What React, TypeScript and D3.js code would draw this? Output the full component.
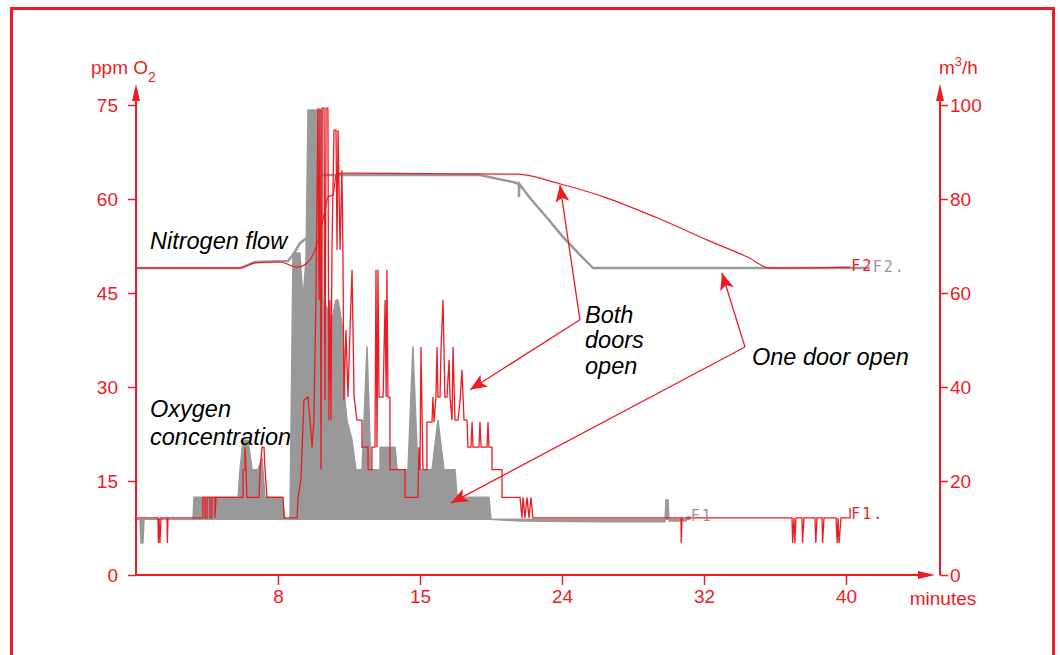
import { useEffect, useRef } from 'react';
import * as d3 from 'd3';

const RED = '#ec1c24';
const GREY = '#999999';
const FONT = 'Liberation Sans, Arial, Helvetica, sans-serif';

// axis ticks
const minuteTicks = [8, 15, 24, 32, 40];
const ppmTicks = [0, 15, 30, 45, 60, 75];
const flowTicks = [0, 20, 40, 60, 80, 100];

// oxygen concentration, grey trace: [minute, ppm O2]
const oxygenGrey = [
  [0, 8.9], [0.23, 8.9], [0.28, 5.1], [0.39, 5.1], [0.45, 8.9], [3.21, 8.9], [3.27, 12.4], [5.75, 12.4],
  [5.86, 16.8], [6.03, 21.5], [6.31, 21.5], [6.54, 16.8], [6.87, 16.8], [7.1, 18.7], [7.27, 12.4], [8.2, 12.4],
  [8.35, 8.9], [8.59, 8.9], [8.74, 51.4], [9.08, 51.4], [9.23, 43.9], [9.38, 50.3], [9.48, 74.2], [10.17, 74.2],
  [10.22, 43.9], [10.46, 42.3], [10.51, 24.7], [10.61, 24.7], [10.66, 40.7], [10.86, 43.9], [10.96, 43.9],
  [11.2, 39.1], [11.3, 27.9], [11.4, 24.7], [11.65, 21.5], [11.84, 16.8], [12.14, 16.8], [12.39, 36.4],
  [12.58, 16.8], [13.03, 16.8], [13.03, 20.4], [13.77, 20.4], [13.87, 16.8], [14.41, 16.8], [14.65, 36.4],
  [14.85, 20.4], [15.0, 16.8], [15.76, 16.8], [16.14, 24.7], [16.52, 16.8], [17.22, 16.8], [17.35, 12.4],
  [19.37, 12.4], [19.5, 8.9], [21.34, 8.6], [26.14, 8.5], [29.8, 8.5], [29.86, 12.0], [29.97, 12.0],
  [30.03, 8.6], [30.99, 8.6], [31.04, 9.25], [31.21, 9.25],
];
const oxygenBase = 8.9;

// oxygen concentration, red trace: [minute, ppm O2]
const oxygenRed = [
  [0, 9.1], [1.24, 9.1], [1.26, 5.1], [1.3, 9.1], [1.35, 5.1], [1.41, 9.1], [1.75, 9.1], [1.77, 5.1], [1.8, 9.1],
  [3.77, 9.1], [3.77, 12.4], [3.89, 12.4], [3.89, 9.1], [4.0, 9.1], [4.0, 12.4], [4.17, 12.4], [4.17, 9.1],
  [4.28, 9.1], [4.28, 12.4], [4.45, 12.4], [4.45, 9.1], [4.51, 12.4], [6.03, 12.4], [6.03, 16.8], [6.14, 16.8],
  [6.14, 20.4], [6.2, 16.8], [6.25, 12.4], [6.93, 12.4], [6.99, 16.8], [7.1, 20.4], [7.21, 20.4], [7.27, 16.8],
  [7.38, 12.4], [8.25, 12.4], [8.3, 9.1], [8.94, 9.1], [8.99, 12.4], [9.13, 15.2], [9.28, 27.9], [9.48, 28.4],
  [9.58, 24.7], [9.68, 20.4], [9.77, 24.7], [9.87, 43.9], [9.97, 74.5], [10.02, 43.9], [10.07, 74.5],
  [10.12, 16.8], [10.17, 74.5], [10.27, 74.5], [10.32, 27.9], [10.37, 74.5], [10.46, 74.5], [10.51, 24.7],
  [10.56, 43.9], [10.61, 24.7], [10.66, 51.9], [10.76, 71.0], [10.86, 71.0], [10.91, 51.9], [10.96, 71.0],
  [11.06, 51.9], [11.15, 64.6], [11.2, 51.9], [11.25, 27.9], [11.35, 39.1], [11.45, 28.4], [11.55, 39.1],
  [11.65, 48.7], [11.75, 28.4], [11.89, 24.7], [12.14, 24.7], [12.14, 20.4], [12.44, 20.4], [12.44, 16.8],
  [12.63, 16.8], [12.63, 20.4], [12.78, 20.4], [12.83, 48.7], [12.88, 20.4], [12.93, 48.7], [12.98, 28.4],
  [13.18, 28.4], [13.28, 43.9], [13.33, 28.4], [13.37, 48.7], [13.42, 28.4], [13.52, 28.4], [13.52, 16.8],
  [14.26, 16.8], [14.26, 12.4], [14.9, 12.4], [14.95, 20.4], [15.0, 16.8], [15.06, 36.4], [15.19, 16.8],
  [15.44, 16.8], [15.44, 24.4], [15.76, 24.4], [15.82, 28.4], [15.89, 24.4], [16.01, 28.4], [16.08, 36.4],
  [16.14, 28.4], [16.27, 28.4], [16.33, 35.9], [16.46, 43.9], [16.58, 28.4], [16.71, 28.4], [16.84, 34.3],
  [16.9, 28.4], [17.03, 24.7], [17.09, 36.4], [17.22, 24.7], [17.41, 24.7], [17.54, 27.9], [17.66, 32.7],
  [17.79, 24.7], [17.98, 24.7], [18.04, 20.4], [18.23, 20.4], [18.3, 24.4], [18.36, 20.4], [18.74, 20.4],
  [18.8, 24.4], [18.87, 20.4], [19.25, 20.4], [19.31, 24.4], [19.37, 20.4], [19.56, 20.4], [19.56, 16.8],
  [20.2, 16.8], [20.2, 12.4], [21.34, 12.4], [21.46, 9.1], [21.53, 12.4], [21.65, 9.1], [21.78, 12.4],
  [21.91, 9.1], [22.03, 12.4], [22.16, 9.1], [30.7, 9.1], [30.72, 5.1], [30.76, 9.1], [36.96, 9.1],
  [36.99, 5.1], [37.07, 9.1], [37.12, 5.1], [37.18, 9.1], [37.52, 9.1], [37.55, 5.1], [37.63, 9.1],
  [38.25, 9.1], [38.3, 5.1], [38.36, 9.1], [38.65, 9.1], [38.68, 5.1], [38.76, 9.1], [39.44, 9.1],
  [39.5, 5.1], [39.55, 9.1], [39.61, 5.1], [39.72, 9.1], [40.23, 9.1], [40.23, 10.7],
];

// nitrogen flow, grey trace: [minute, m3/h]
const flowGrey = [
  [0, 65.3], [5.86, 65.3], [6.7, 66.6], [8.49, 66.8], [8.74, 68.1], [9.08, 70.6], [9.48, 71.9], [9.68, 78.3],
  [9.82, 84.0], [9.97, 85.1], [18.8, 85.1], [20.89, 83.6], [21.27, 83.2], [21.27, 80.4], [21.3, 83.2],
  [21.97, 80.2], [23.05, 76.0], [24.06, 71.9], [25.01, 68.1], [25.75, 65.3], [41.35, 65.3],
];

// nitrogen flow, red trace: [minute, m3/h]
const flowRed = [
  [0, 65.3], [5.86, 65.3], [6.7, 66.4], [8.1, 66.6], [8.94, 65.5], [9.43, 66.4], [9.72, 68.1], [10.07, 72.8],
  [10.32, 77.7], [10.46, 80.4], [10.71, 80.9], [10.86, 84.9], [11.15, 85.5], [21.21, 85.3], [23.68, 83.4],
  [26.54, 80.2], [29.35, 76.0], [32.17, 71.3], [34.42, 67.7], [35.72, 65.3], [40.23, 65.5],
];

// trace end labels: [text, minute, value, colour]
const oxygenLabels = [
  ['F1', 31.25, 8.6, GREY],
  ['F1.', 40.3, 8.9, RED],
];
const flowLabels = [
  ['F2', 40.3, 64.6, RED],
  ['F2.', 41.5, 64.4, GREY],
];

// annotation arrows: tail [minute, m3/h] -> tip [minute, m3/h]
const arrows = [
  [[25.01, 54.3], [23.87, 83.0]],
  [[25.01, 54.3], [18.17, 39.4]],
  [[34.31, 48.5], [33.01, 64.3]],
  [[34.31, 48.5], [16.96, 15.3]],
];

const App = () => {
  const svgRef = useRef(null);

  useEffect(() => {
    const svg = d3.select(svgRef.current);
    svg.selectAll('*').remove();

    const x0 = 136;
    const step = 142;
    const yBottom = 575;
    const yTop = 105;
    const rightX = 940;

    const x = d3
      .scaleLinear()
      .domain([0, ...minuteTicks])
      .range([0, 1, 2, 3, 4, 5].map((i) => x0 + i * step));
    const yL = d3.scaleLinear().domain([0, 75]).range([yBottom, yTop]);
    const yR = d3.scaleLinear().domain([0, 100]).range([yBottom, yTop]);

    // frame (bottom edge runs off the page)
    svg.append('rect')
      .attr('x', 11.5)
      .attr('y', 8.5)
      .attr('width', 1042)
      .attr('height', 652)
      .attr('fill', 'none')
      .attr('stroke', RED)
      .attr('stroke-width', 3);

    const defs = svg.append('defs');
    defs.append('marker')
      .attr('id', 'head')
      .attr('markerUnits', 'userSpaceOnUse')
      .attr('markerWidth', 20)
      .attr('markerHeight', 16)
      .attr('refX', 17)
      .attr('refY', 7)
      .attr('orient', 'auto')
      .append('path')
      .attr('d', 'M17,7 L0,0 L4,7 L0,14 Z')
      .attr('fill', RED);

    // grey nitrogen flow
    const flowLine = d3.line().x((d) => x(d[0])).y((d) => yR(d[1]));
    svg.append('path')
      .datum(flowGrey)
      .attr('fill', 'none')
      .attr('stroke', GREY)
      .attr('stroke-width', 2.5)
      .attr('d', flowLine);

    // grey oxygen trace (dense signal, drawn as filled band)
    const oxyArea = d3
      .area()
      .x((d) => x(d[0]))
      .y0(yL(oxygenBase))
      .y1((d) => yL(d[1]));
    svg.append('path')
      .datum(oxygenGrey)
      .attr('fill', GREY)
      .attr('stroke', GREY)
      .attr('stroke-width', 1.5)
      .attr('stroke-linejoin', 'round')
      .attr('d', oxyArea);

    // red oxygen trace
    const oxyLine = d3.line().x((d) => x(d[0])).y((d) => yL(d[1]));
    svg.append('path')
      .datum(oxygenRed)
      .attr('fill', 'none')
      .attr('stroke', RED)
      .attr('stroke-width', 1.3)
      .attr('d', oxyLine);

    // red nitrogen flow
    svg.append('path')
      .datum(flowRed)
      .attr('fill', 'none')
      .attr('stroke', RED)
      .attr('stroke-width', 1.2)
      .attr('d', d3.line().x((d) => x(d[0])).y((d) => yR(d[1])).curve(d3.curveMonotoneX));

    // trace labels
    const traceLabel = (list, scale) => {
      list.forEach(([t, m, v, c]) => {
        svg.append('text')
          .attr('x', x(m))
          .attr('y', scale(v))
          .attr('fill', c)
          .attr('font-family', 'DejaVu Sans Mono, monospace')
          .attr('font-size', 15)
          .attr('letter-spacing', 2)
          .text(t);
      });
    };
    traceLabel(oxygenLabels, yL);
    traceLabel(flowLabels, yR);

    // axes
    const styleAxis = (g) => {
      g.select('.domain').remove();
      g.selectAll('line').attr('stroke', RED).attr('stroke-width', 1.5);
      g.selectAll('text')
        .attr('fill', RED)
        .attr('font-size', 19)
        .attr('font-family', FONT);
    };

    svg.append('g')
      .attr('transform', `translate(${x0},0)`)
      .call(d3.axisLeft(yL).tickValues(ppmTicks).tickSize(8).tickPadding(10).tickSizeOuter(0))
      .call(styleAxis);

    svg.append('g')
      .attr('transform', `translate(${rightX},0)`)
      .call(d3.axisRight(yR).tickValues(flowTicks).tickSize(8).tickPadding(2).tickSizeOuter(0))
      .call(styleAxis);

    svg.append('g')
      .attr('transform', `translate(0,${yBottom})`)
      .call(d3.axisBottom(x).tickValues(minuteTicks).tickSize(10).tickPadding(5).tickSizeOuter(0))
      .call(styleAxis);

    // axis lines with arrow heads
    const axisLines = svg.append('g').attr('stroke', RED).attr('stroke-width', 2);
    axisLines.append('line').attr('x1', x0).attr('y1', yBottom).attr('x2', x0).attr('y2', 98);
    axisLines.append('line').attr('x1', rightX).attr('y1', yBottom).attr('x2', rightX).attr('y2', 98);
    axisLines.append('line').attr('x1', x0).attr('y1', yBottom).attr('x2', 922).attr('y2', yBottom);
    const heads = [
      `M${x0},84 L${x0 - 4},101 L${x0 + 4},101 Z`,
      `M${rightX},84 L${rightX - 4},101 L${rightX + 4},101 Z`,
      `M935,${yBottom} L918,${yBottom - 4} L918,${yBottom + 4} Z`,
    ];
    heads.forEach((d) => svg.append('path').attr('d', d).attr('fill', RED));

    // axis titles
    const lt = svg.append('text')
      .attr('x', 91)
      .attr('y', 74)
      .attr('fill', RED)
      .attr('font-family', FONT)
      .attr('font-size', 19);
    lt.append('tspan').text('ppm O');
    lt.append('tspan').attr('font-size', 14).attr('dy', 8).text('2');

    const rt = svg.append('text')
      .attr('x', 939)
      .attr('y', 74)
      .attr('fill', RED)
      .attr('font-family', FONT)
      .attr('font-size', 19);
    rt.append('tspan').text('m');
    rt.append('tspan').attr('font-size', 13).attr('dy', -8).text('3');
    rt.append('tspan').attr('dy', 8).text('/h');

    svg.append('text')
      .attr('x', 943)
      .attr('y', 605)
      .attr('text-anchor', 'middle')
      .attr('fill', RED)
      .attr('font-family', FONT)
      .attr('font-size', 19)
      .text('minutes');

    // annotation arrows
    arrows.forEach(([from, to]) => {
      svg.append('line')
        .attr('x1', x(from[0]))
        .attr('y1', yR(from[1]))
        .attr('x2', x(to[0]))
        .attr('y2', yR(to[1]))
        .attr('stroke', RED)
        .attr('stroke-width', 1.3)
        .attr('marker-end', 'url(#head)');
    });

    // annotation text
    const notes = [
      ['Nitrogen flow', 150, 249],
      ['Oxygen', 150, 417],
      ['concentration', 150, 445],
      ['Both', 585, 323],
      ['doors', 585, 348],
      ['open', 585, 374],
      ['One door open', 752, 365],
    ];
    notes.forEach(([t, tx, ty]) => {
      svg.append('text')
        .attr('x', tx)
        .attr('y', ty)
        .attr('font-family', FONT)
        .attr('font-style', 'italic')
        .attr('font-size', 23.5)
        .attr('fill', '#000')
        .text(t);
    });
  }, []);

  return (
    <div style={{ position: 'absolute', left: 0, top: 0 }}>
      <svg ref={svgRef} width={1060} height={655}></svg>
    </div>
  );
};

export default App;
